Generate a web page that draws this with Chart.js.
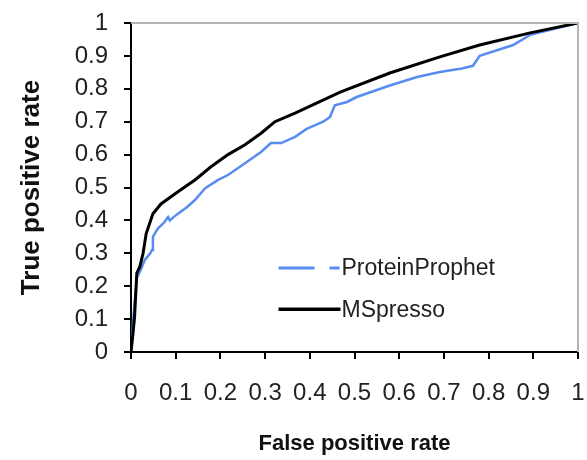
<!DOCTYPE html>
<html>
<head>
<meta charset="utf-8">
<script src="https://cdn.jsdelivr.net/npm/chart.js@4"></script>
<style>
    body { margin: 0; background: #fff; }
</style>
</head>
<body>
<canvas id="rocChart" width="587" height="460"></canvas>
<script>
// ROC curve values
var mspressoFpr = [0, 0.004, 0.008, 0.013, 0.02, 0.027, 0.034, 0.049, 0.067, 0.105, 0.143, 0.179, 0.217, 0.255, 0.291, 0.322, 0.367, 0.468, 0.579, 0.691, 0.78, 0.893, 1];
var mspressoTpr = [0, 0.05, 0.107, 0.24, 0.26, 0.30, 0.36, 0.42, 0.45, 0.487, 0.523, 0.563, 0.60, 0.63, 0.665, 0.70, 0.726, 0.79, 0.848, 0.897, 0.933, 0.97, 1];

var prophetFpr = [0, 0.005, 0.013, 0.022, 0.031, 0.043, 0.047, 0.049, 0.06, 0.075, 0.083, 0.087, 0.095, 0.105, 0.125, 0.143, 0.166, 0.195, 0.217, 0.255, 0.291, 0.313, 0.336, 0.367, 0.393, 0.43, 0.445, 0.456, 0.483, 0.505, 0.579, 0.64, 0.691, 0.74, 0.765, 0.78, 0.855, 0.893, 1];
var prophetTpr = [0, 0.1, 0.225, 0.25, 0.28, 0.30, 0.31, 0.35, 0.375, 0.395, 0.41, 0.40, 0.41, 0.42, 0.44, 0.462, 0.498, 0.523, 0.538, 0.574, 0.608, 0.635, 0.635, 0.654, 0.678, 0.70, 0.714, 0.75, 0.76, 0.775, 0.81, 0.836, 0.851, 0.862, 0.87, 0.90, 0.933, 0.964, 1];

var xTickLabels = ['0', '0.1', '0.2', '0.3', '0.4', '0.5', '0.6', '0.7', '0.8', '0.9', '1'];
var yTickLabels = ['0', '0.1', '0.2', '0.3', '0.4', '0.5', '0.6', '0.7', '0.8', '0.9', '1'];
var seriesNames = ['ProteinProphet', 'MSpresso'];

function toPoints(xs, ys) {
    var pts = [];
    for (var i = 0; i < xs.length; i++) {
        pts.push({ x: xs[i], y: ys[i] });
    }
    return pts;
}

var fontName = "'Liberation Sans', Arial, sans-serif";
var blue = 'rgb(88, 140, 240)';

// gray frame on top/right + the legend inside the plot
var frameAndLegend = {
    id: 'frameAndLegend',
    afterDraw: function (chart) {
        var ctx = chart.ctx;
        var a = chart.chartArea;
        ctx.save();
        ctx.strokeStyle = '#b4b4b4';
        ctx.lineWidth = 2;
        ctx.beginPath();
        ctx.moveTo(a.left, a.top);
        ctx.lineTo(a.right, a.top);
        ctx.lineTo(a.right, a.bottom);
        ctx.stroke();

        var lx = a.left + 0.33 * (a.right - a.left);
        var y1 = a.top + 0.745 * (a.bottom - a.top);
        var y2 = a.top + 0.87 * (a.bottom - a.top);
        ctx.lineWidth = 3;
        ctx.strokeStyle = blue;
        ctx.beginPath();
        ctx.moveTo(lx, y1);
        ctx.lineTo(lx + 36, y1);
        ctx.moveTo(lx + 51, y1);
        ctx.lineTo(lx + 61, y1);
        ctx.stroke();
        ctx.strokeStyle = '#000';
        ctx.lineWidth = 3.5;
        ctx.beginPath();
        ctx.moveTo(lx, y2);
        ctx.lineTo(lx + 62, y2);
        ctx.stroke();

        ctx.fillStyle = '#222';
        ctx.font = '23px ' + fontName;
        ctx.textBaseline = 'middle';
        ctx.textAlign = 'left';
        ctx.fillText(seriesNames[0], lx + 63, y1 + 1);
        ctx.fillText(seriesNames[1], lx + 63, y2 + 1);
        ctx.restore();
    }
};

var rocCanvas = document.getElementById('rocChart');
var rocChart = new Chart(rocCanvas, {
    type: 'scatter',
    data: {
        datasets: [{
            label: seriesNames[1],
            data: toPoints(mspressoFpr, mspressoTpr),
            showLine: true,
            borderColor: '#000',
            borderWidth: 3,
            pointRadius: 0,
            tension: 0,
            order: 1
        }, {
            label: seriesNames[0],
            data: toPoints(prophetFpr, prophetTpr),
            showLine: true,
            borderColor: blue,
            borderWidth: 2.5,
            pointRadius: 0,
            tension: 0,
            order: 2
        }]
    },
    options: {
        responsive: false,
        animation: false,
        layout: { padding: { top: 23, right: 9, left: 0, bottom: 0 } },
        plugins: {
            legend: { display: false },
            tooltip: { enabled: false }
        },
        scales: {
            x: {
                type: 'linear',
                min: 0,
                max: 1,
                afterFit: function (scale) {
                    scale.height = 108;
                    scale.paddingLeft = 0;
                    scale.paddingRight = 0;
                },
                border: { color: '#000', width: 2 },
                grid: { drawOnChartArea: false, tickLength: 7, color: '#000', lineWidth: 2 },
                ticks: {
                    stepSize: 0.1,
                    autoSkip: false,
                    maxRotation: 0,
                    padding: 20,
                    color: '#222',
                    font: { family: fontName, size: 24 },
                    callback: function (value, index) { return xTickLabels[index]; }
                },
                title: {
                    display: true,
                    text: 'False positive rate',
                    color: '#111',
                    font: { family: fontName, size: 22, weight: 'bold' },
                    padding: { top: 0, bottom: 3 }
                }
            },
            y: {
                type: 'linear',
                min: 0,
                max: 1,
                afterFit: function (scale) {
                    scale.width = 131;
                    scale.paddingTop = 0;
                    scale.paddingBottom = 0;
                },
                border: { color: '#000', width: 2 },
                grid: { drawOnChartArea: false, tickLength: 7, color: '#000', lineWidth: 2 },
                ticks: {
                    stepSize: 0.1,
                    autoSkip: false,
                    padding: 16,
                    color: '#222',
                    font: { family: fontName, size: 24 },
                    callback: function (value, index) { return yTickLabels[index]; }
                },
                title: {
                    display: true,
                    text: 'True positive rate',
                    color: '#111',
                    font: { family: fontName, size: 26, weight: 'bold' },
                    padding: { top: 16, bottom: 0 }
                }
            }
        }
    },
    plugins: [frameAndLegend]
});
</script>
</body>
</html>
